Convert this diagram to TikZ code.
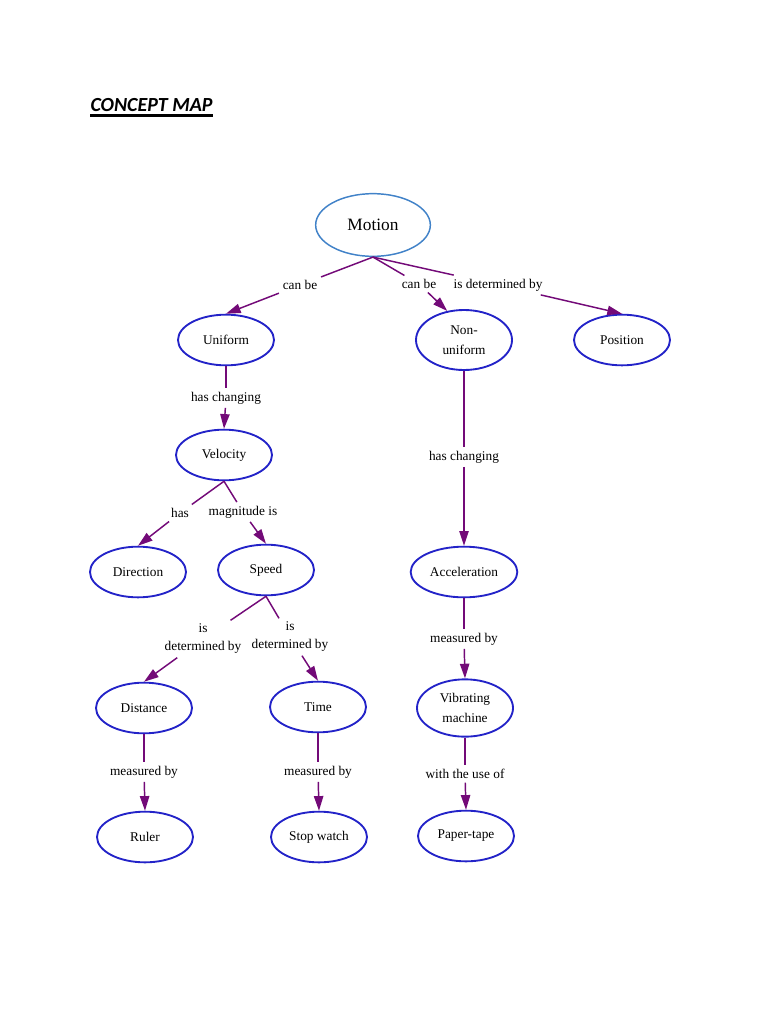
\documentclass[tikz,border=0pt]{standalone}
\usepackage{fontspec}
\setmainfont{Liberation Serif}
\newfontfamily\titlefont{Carlito}
\usetikzlibrary{shapes.geometric,arrows.meta}

\definecolor{linkpurple}{RGB}{115,10,120}
\definecolor{ovalblue}{RGB}{35,35,200}
\definecolor{topblue}{RGB}{65,130,200}

\tikzset{every picture/.style={line width=0.75pt}}
\tikzset{
  concept/.style={ellipse, draw=ovalblue, line width=1.4pt, minimum width=72pt, minimum height=38pt, inner sep=0pt, align=center, font=\fontsize{10}{15}\selectfont},
  linklabel/.style={inner sep=2.5pt, align=center, font=\fontsize{10}{13.5}\selectfont},
  link/.style={draw=linkpurple, line width=1.1pt},
  linkarrow/.style={link, -{Triangle[length=11pt,width=7pt]}},
}

\begin{document}
\begin{tikzpicture}[x=0.75pt,y=0.75pt,yscale=-1,xscale=1]
\path (0,0) rectangle (768,1024); %page of 768 x 1024

% Text Node
\node [anchor=base west, inner sep=0pt, font=\titlefont\bfseries\itshape\fontsize{15}{18}\selectfont] (title) at (90,112) {CONCEPT MAP};
\draw [line width=1.6pt] ([yshift=2.6pt]title.base west) -- ([yshift=2.6pt]title.base east);

%Ellipse [top]
\node [concept, draw=topblue, line width=1.1pt, minimum width=86pt, minimum height=47pt, font=\fontsize{13}{15}\selectfont] (motion) at (373,225) {Motion};
%Ellipse [row 1]
\node [concept] (uniform) at (226,340) {Uniform};
\node [concept, minimum height=45pt] (nonuni) at (464,340) {Non-\\uniform};
\node [concept] (position) at (622,340) {Position};
%Ellipse [row 2]
\node [concept] (velocity) at (224,455) {Velocity};
%Ellipse [row 3]
\node [concept] (direction) at (138,572) {Direction};
\node [concept] (speed) at (266,570) {Speed};
\node [concept, minimum width=80pt] (accel) at (464,572) {Acceleration};
%Ellipse [row 4]
\node [concept] (distance) at (144,708) {Distance};
\node [concept] (time) at (318,707) {Time};
\node [concept, minimum height=43pt] (vibra) at (465,708) {Vibrating\\machine};
%Ellipse [row 5]
\node [concept] (ruler) at (145,837) {Ruler};
\node [concept] (stopwatch) at (319,837) {Stop watch};
\node [concept] (tape) at (466,836) {Paper-tape};

% Text Node
\node [linklabel] (canbeA) at (300,285) {can be};
\node [linklabel] (canbeB) at (419,284) {can be};
\node [linklabel] (detby) at (498,285) {is determined by};
\node [linklabel] (changeA) at (226,398) {has changing};
\node [linklabel] (changeB) at (464,457) {has changing};
\node [linklabel] (has) at (180,513) {has};
\node [linklabel] (magn) at (243,512) {magnitude is};
\node [linklabel] (detdist) at (203,639) {is\\determined by};
\node [linklabel] (dettime) at (290,637) {is\\determined by};
\node [linklabel] (measacc) at (464,639) {measured by};
\node [linklabel] (measdist) at (144,772) {measured by};
\node [linklabel] (meastime) at (318,772) {measured by};
\node [linklabel] (useof) at (465,774) {with the use of};

%Straight Lines
\draw [link] (motion.south) -- (canbeA);
\draw [linkarrow] (canbeA) -- (uniform.north);
\draw [link] (motion.south) -- (canbeB);
\draw [linkarrow] (canbeB) -- (nonuni.120);
\draw [link] (motion.south) -- (detby);
\draw [linkarrow] (detby) -- (position.north);
%Straight Lines
\draw [link] (uniform.south) -- (changeA);
\draw [linkarrow] (changeA) -- (velocity.north);
\draw [link] (nonuni.south) -- (changeB);
\draw [linkarrow] (changeB) -- (accel.north);
%Straight Lines
\draw [link] (velocity.south) -- (has);
\draw [linkarrow] (has) -- (direction.north);
\draw [link] (velocity.south) -- (magn);
\draw [linkarrow] (magn) -- (speed.north);
%Straight Lines
\draw [link] (speed.south) -- (detdist);
\draw [linkarrow] (detdist) -- (distance.north);
\draw [link] (speed.south) -- (dettime);
\draw [linkarrow] (dettime) -- (time.north);
\draw [link] (accel.south) -- (measacc);
\draw [linkarrow] (measacc) -- (vibra.north);
%Straight Lines
\draw [link] (distance.south) -- (measdist);
\draw [linkarrow] (measdist) -- (ruler.north);
\draw [link] (time.south) -- (meastime);
\draw [linkarrow] (meastime) -- (stopwatch.north);
\draw [link] (vibra.south) -- (useof);
\draw [linkarrow] (useof) -- (tape.north);

\end{tikzpicture}
\end{document}
